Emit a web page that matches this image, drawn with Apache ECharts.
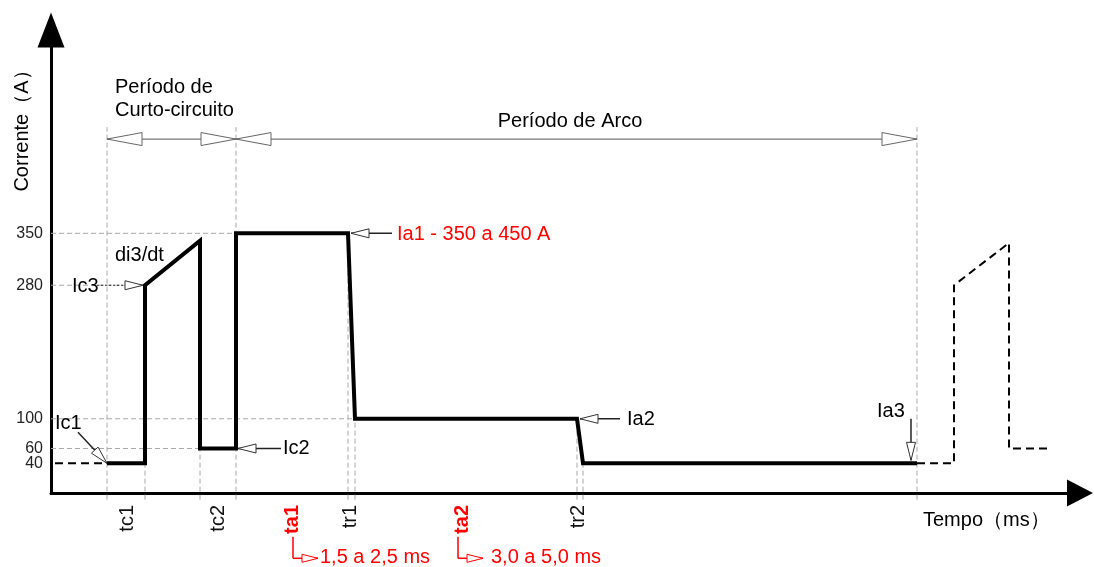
<!DOCTYPE html>
<html><head><meta charset="utf-8">
<script src="https://cdn.jsdelivr.net/npm/echarts@6/dist/echarts.min.js"></script>
<style>html,body{margin:0;padding:0;background:#fff}#c{width:1094px;height:567px}</style>
</head><body><div id="c"></div>
<script>
// ---- data (time in arbitrary units, current in A) ----
const leadTime = [4, 56];
const leadCurrent = [40, 40];
const waveTime = [56, 94, 94, 149, 149, 185, 185, 297, 304, 526, 532, 866];
const waveCurrent = [40, 40, 280, 340, 60, 60, 350, 350, 100, 100, 40, 40];
const nextTime = [866, 903, 903, 958, 958, 996];
const nextCurrent = [40, 40, 280, 337, 60, 60];
const yTickValues = [40, 60, 100, 280, 350];
const xTickNames = ['tc1', 'tc2', 'ta1', 'tr1', 'ta2', 'tr2'];
const xTickTimes = [76, 167, 241, 299, 411, 527];
const redTicks = ['ta1', 'ta2'];
const vGuideTime = [56, 94, 149, 185, 297, 304, 526, 532, 866];
const vGuideTop = [493, 280, 60, 493, 350, 100, 100, 40, 493];
const hGuideCurrent = [350, 280, 100, 60];
const hGuideEnd = [185, 94, 304, 149];
const periodTime = [56, 185, 866];
const periodLevel = 477;

const FONT = '"Liberation Sans", Arial, sans-serif';
const zip = (a, b) => a.map((v, i) => [v, b[i]]);
const chart = echarts.init(document.getElementById('c'), null, {renderer: 'canvas'});

const guideStyle = {color: '#a8a8a8', width: 1, type: [5, 3]};
const series = [];
vGuideTime.forEach((t, i) => series.push({
  type: 'line', data: [[t, -9], [t, vGuideTop[i]]], symbol: 'none', clip: false, silent: true,
  lineStyle: guideStyle, z: 1
}));
hGuideCurrent.forEach((c, i) => series.push({
  type: 'line', data: [[0, c], [hGuideEnd[i], c]], symbol: 'none', clip: false, silent: true,
  lineStyle: guideStyle, z: 1
}));
series.push({
  type: 'line', data: [[periodTime[0], periodLevel], [periodTime[2], periodLevel]], symbol: 'none', silent: true,
  lineStyle: {color: '#777', width: 1.2}, z: 2
});
series.push({
  type: 'line', data: zip(leadTime, leadCurrent), symbol: 'none', silent: true,
  lineStyle: {color: '#000', width: 2, type: [8, 5]}, z: 3
});
series.push({
  type: 'line', data: zip(waveTime, waveCurrent), symbol: 'none', silent: true,
  lineStyle: {color: '#000', width: 4, join: 'miter', miterLimit: 20}, z: 5
});
series.push({
  type: 'line', data: zip(nextTime, nextCurrent), symbol: 'none', silent: true,
  lineStyle: {color: '#000', width: 2, type: [8, 5]}, z: 3
});

chart.setOption({
  animation: false,
  backgroundColor: '#fff',
  grid: {left: 51, right: 14, top: 30, bottom: 74, containLabel: false, outerBoundsMode: 'none'},
  xAxis: {
    type: 'value', min: 0, max: 1029,
    splitLine: {show: false},
    axisTick: {show: false},
    axisLine: {show: true, onZero: false, lineStyle: {color: '#000', width: 3},
      symbol: ['none', 'triangle'], symbolSize: [27, 26]},
    axisLabel: {
      customValues: xTickTimes, rotate: 90, margin: 12, fontSize: 20, fontFamily: FONT, color: '#111',
      hideOverlap: false,
      formatter: v => {
        const n = xTickNames[xTickTimes.indexOf(v)] || '';
        return redTicks.includes(n) ? '{r|' + n + '}' : n;
      },
      rich: {r: {color: '#ff0000', fontWeight: 'bold', fontSize: 20, fontFamily: FONT}}
    }
  },
  yAxis: {
    type: 'value', min: 0, max: 624,
    splitLine: {show: false},
    axisTick: {show: false},
    axisLine: {show: true, onZero: false, lineStyle: {color: '#000', width: 3},
      symbol: ['none', 'triangle'], symbolSize: [27, 35]},
    axisLabel: {show: false}
  },
  series: series
});

// ---- annotations (anchored to data coordinates) ----
const px = (t, c) => chart.convertToPixel({gridIndex: 0}, [t, c]);
function head(tip, from, len, hw, color) {
  const dx = tip[0] - from[0], dy = tip[1] - from[1];
  const d = Math.hypot(dx, dy), ux = dx / d, uy = dy / d;
  const bx = tip[0] - ux * len, by = tip[1] - uy * len;
  return {type: 'polygon', z: 60, silent: true,
    shape: {points: [tip, [bx - uy * hw, by + ux * hw], [bx + uy * hw, by - ux * hw]]},
    style: {fill: '#fff', stroke: color, lineWidth: 1}};
}
function seg(a, b, color, w, dash) {
  return {type: 'line', z: 55, silent: true, shape: {x1: a[0], y1: a[1], x2: b[0], y2: b[1]},
    style: {stroke: color, lineWidth: w, lineDash: dash || null}};
}
function text(str, x, y, opts) {
  return Object.assign({type: 'text', z: 70, silent: true, x: x, y: y,
    style: Object.assign({text: str, fontSize: 20, fontFamily: FONT, fill: '#000',
      textAlign: 'left', textVerticalAlign: 'middle'}, (opts && opts.style) || {})},
    (opts && opts.el) || {});
}
const g = [];
// y-axis tick labels (all shown, positioned by the y scale)
yTickValues.forEach(v => {
  const p = px(0, v);
  g.push(text(String(v), p[0] - 8, p[1], {style: {textAlign: 'right', fontSize: 16, fill: '#222'}}));
});
// period dimension arrows
const pL = px(periodTime[0], periodLevel), pM = px(periodTime[1], periodLevel), pR = px(periodTime[2], periodLevel);
g.push(head(pL, [pL[0] + 50, pL[1]], 35, 6.5, '#666'));
g.push(head(pM, [pM[0] - 50, pM[1]], 35, 6.5, '#666'));
g.push(head(pM, [pM[0] + 50, pM[1]], 35, 6.5, '#666'));
g.push(head(pR, [pR[0] - 50, pR[1]], 35, 6.5, '#666'));
// pointers: [tailT, tailI, tipT, tipI, dotted]
const pointers = [
  [27, 82, 56, 40, false],
  [46, 280, 92, 280, true],
  [230, 60, 187, 60, false],
  [341, 350, 300, 350, false],
  [569, 100, 529, 100, false],
  [860, 100, 860, 44, false]
];
pointers.forEach(p => {
  const a = px(p[0], p[1]), b = px(p[2], p[3]);
  g.push(seg(a, b, '#222', p[4] ? 1 : 1.5, p[4] ? [2, 2] : null));
  g.push(head(b, a, 18, 4.5, '#333'));
});
// red L-shaped arrows under ta1 / ta2
[[242, 267], [407, 432]].forEach(p => {
  const top = px(p[0], -59), corner = px(p[0], -88), tip = px(p[1], -88);
  g.push(seg(top, corner, '#ff0000', 1.5));
  g.push(seg(corner, tip, '#ff0000', 1.5));
  g.push(head(tip, corner, 16, 4, '#ff0000'));
});
// texts
g.push(text('Corrente（A）', 22, 126, {style: {textAlign: 'center', fontSize: 20}, el: {rotation: Math.PI / 2}}));
g.push(text('Período de', 115, 87));
g.push(text('Curto-circuito', 115, 110));
g.push(text('Período de Arco', 570, 121, {style: {textAlign: 'center'}}));
g.push(text('di3/dt', 115, 255));
g.push(text('Ic3', 72, 286));
g.push(text('Ic1', 55, 423));
g.push(text('Ic2', 283, 448));
g.push(text('Ia1 - 350 a 450 A', 397, 234, {style: {fill: '#ff0000'}}));
g.push(text('Ia2', 627, 419));
g.push(text('Ia3', 877, 411));
g.push(text('Tempo（ms）', 923, 520));
g.push(text('1,5 a 2,5 ms', 320, 557, {style: {fill: '#ff0000'}}));
g.push(text('3,0 a 5,0 ms', 491, 557, {style: {fill: '#ff0000'}}));
chart.setOption({graphic: g});
</script>
</body></html>
